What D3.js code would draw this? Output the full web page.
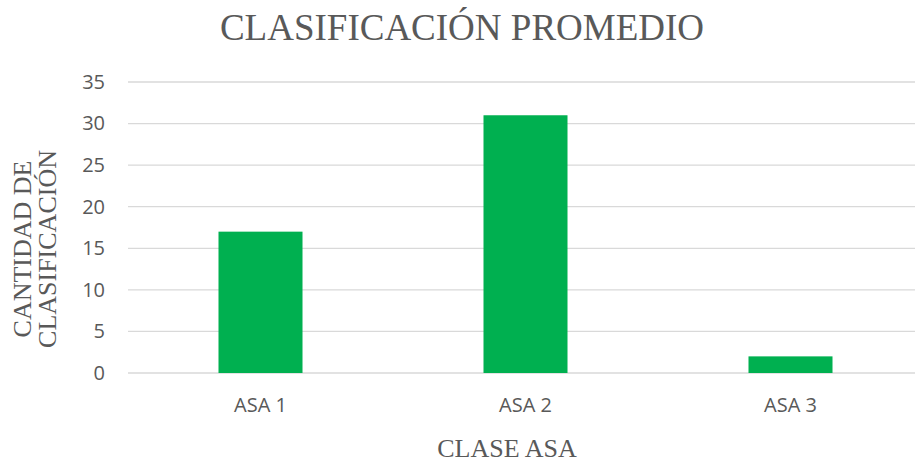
<!DOCTYPE html>
<html><head><meta charset="utf-8">
<script src="https://cdn.jsdelivr.net/npm/d3@7"></script>
<style>body{margin:0;background:#fff}svg{display:block}</style>
</head><body>
<svg id="c" width="915" height="463"></svg>
<script>
const categories = ["ASA 1", "ASA 2", "ASA 3"];
const values = [17, 31, 2];
const yTicks = [0, 5, 10, 15, 20, 25, 30, 35];
const title = "CLASIFICACIÓN PROMEDIO";
const xTitle = "CLASE ASA";
const yTitleLines = ["CANTIDAD DE", "CLASIFICACIÓN"];

(function () {
const svg = d3.select("#c");
const pl = 128, pr = 923, pt = 82, pb = 373;
const x = d3.scaleBand().domain(categories).range([pl, pr]).paddingInner(0.683).paddingOuter(0.3415);
const y = d3.scaleLinear().domain([0, 35]).range([pb, pt]);
const gray = "#595959";

svg.append("g").selectAll("line").data(yTicks).join("line")
  .attr("x1", pl).attr("x2", 915)
  .attr("y1", d => y(d)).attr("y2", d => y(d))
  .attr("stroke", "#d9d9d9").attr("stroke-width", 1.3);

svg.append("g").selectAll("rect").data(values).join("rect")
  .attr("x", (d, i) => x(categories[i])).attr("width", x.bandwidth())
  .attr("y", d => y(d)).attr("height", d => y(0) - y(d))
  .attr("fill", "#00b050");

const yAxis = svg.append("g").attr("transform", `translate(${pl},0)`)
  .call(d3.axisLeft(y).tickValues(yTicks).tickSize(0).tickPadding(23));
yAxis.select(".domain").remove();
yAxis.selectAll("text").attr("fill", gray).style("font-family", "'Open Sans', sans-serif").style("font-size", "20px");

const xAxis = svg.append("g").attr("transform", `translate(0,${pb})`)
  .call(d3.axisBottom(x).tickSize(0).tickPadding(25));
xAxis.select(".domain").remove();
xAxis.selectAll("text").attr("fill", gray).style("font-family", "'Open Sans', sans-serif").style("font-size", "20px");

svg.append("text").attr("x", 462).attr("y", 40).attr("text-anchor", "middle")
  .attr("fill", gray).style("font-family", "'Liberation Serif', serif").style("font-size", "37px").text(title);

svg.append("text").attr("x", 507).attr("y", 457).attr("text-anchor", "middle")
  .attr("fill", gray).style("font-family", "'Liberation Serif', serif").style("font-size", "26px").text(xTitle);

const yt = svg.append("text").attr("transform", "translate(0,249) rotate(-90)").attr("text-anchor", "middle")
  .attr("fill", gray).style("font-family", "'Liberation Serif', serif").style("font-size", "26px");
yTitleLines.forEach((t, i) => yt.append("tspan").attr("x", 0).attr("y", 31 + i * 25).text(t));
})();
</script>
</body></html>
